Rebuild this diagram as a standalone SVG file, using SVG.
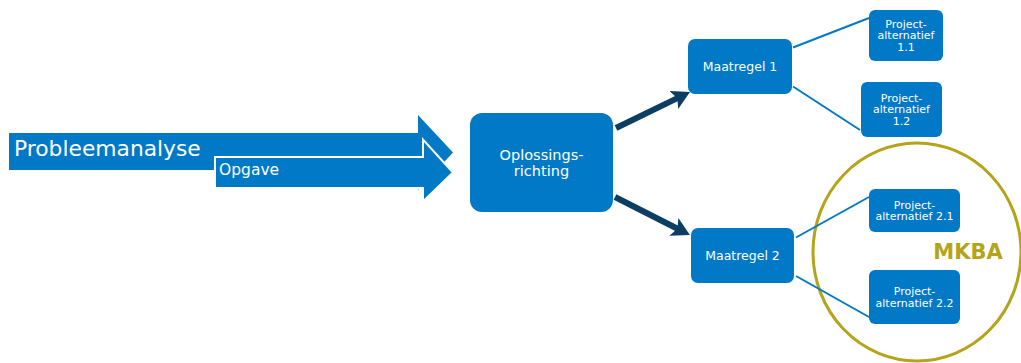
<svg xmlns="http://www.w3.org/2000/svg" width="1021" height="363" viewBox="0 0 1021 363">
  <style>
    .box { fill: #0179c7; }
    .t { font-family: "DejaVu Sans", Verdana, sans-serif; fill: #ffffff; text-anchor: middle; }
    .thin { stroke: #0179c7; stroke-width: 2; fill: none; }
    .dark { stroke: #0c3e62; stroke-width: 6; fill: none; }
  </style>
  <defs>
    <marker id="head" markerUnits="userSpaceOnUse" markerWidth="22" markerHeight="22" refX="8" refY="10" orient="auto">
      <path d="M0,0 L18,10 L0,20 L4,10 z" fill="#0c3e62"/>
    </marker>
  </defs>
  <rect width="1021" height="363" fill="#ffffff"/>

  <g id="mkba">
    <ellipse cx="917" cy="252" rx="104" ry="109" fill="none" stroke="#b5a41a" stroke-width="3"/>
    <text x="968" y="259" font-family="DejaVu Sans, Verdana, sans-serif" font-weight="bold" font-size="21" fill="#b5a41a" text-anchor="middle">MKBA</text>
  </g>

  <g id="probleemanalyse">
    <polygon class="box" points="9,133 418,133 418,115 453,152.5 418,190 418,170 9,170"/>
    <text x="14" y="156" font-family="DejaVu Sans, Verdana, sans-serif" font-size="21.8" fill="#ffffff">Probleemanalyse</text>
  </g>

  <g id="opgave">
    <polygon class="box" points="215,157 423,157 423,139.5 453,172.5 423,201.5 423,188 215,188" stroke="#ffffff" stroke-width="2"/>
    <text x="219" y="175" font-family="DejaVu Sans, Verdana, sans-serif" font-size="15.5" fill="#ffffff">Opgave</text>
  </g>

  <g id="connectors">
    <line class="dark" x1="616" y1="128" x2="681" y2="96.4" marker-end="url(#head)"/>
    <line class="dark" x1="615" y1="197" x2="681" y2="230.5" marker-end="url(#head)"/>
    <line class="thin" x1="793" y1="47.5" x2="869" y2="18"/>
    <line class="thin" x1="793" y1="86.5" x2="860" y2="130"/>
    <line class="thin" x1="796" y1="237.5" x2="869" y2="197"/>
    <line class="thin" x1="796" y1="276" x2="869" y2="317"/>
  </g>

  <g id="oplossingsrichting">
    <rect class="box" x="470" y="113" width="143" height="99" rx="12"/>
    <text class="t" x="541.5" y="159.5" font-size="14.5">Oplossings-</text>
    <text class="t" x="541.5" y="175.5" font-size="14.5">richting</text>
  </g>

  <g id="maatregel1">
    <rect class="box" x="688" y="39" width="104" height="55" rx="7"/>
    <text class="t" x="740" y="71" font-size="12.5">Maatregel 1</text>
  </g>

  <g id="maatregel2">
    <rect class="box" x="691" y="228" width="103" height="55" rx="7"/>
    <text class="t" x="742.5" y="260" font-size="12.5">Maatregel 2</text>
  </g>

  <g id="pa11">
    <rect class="box" x="869" y="10" width="74" height="51" rx="6"/>
    <text class="t" x="906" y="27.5" font-size="11">Project-</text>
    <text class="t" x="906" y="39" font-size="11">alternatief</text>
    <text class="t" x="906" y="50.5" font-size="11">1.1</text>
  </g>

  <g id="pa12">
    <rect class="box" x="861" y="82" width="81" height="55" rx="6"/>
    <text class="t" x="901.5" y="101.5" font-size="11">Project-</text>
    <text class="t" x="901.5" y="113" font-size="11">alternatief</text>
    <text class="t" x="901.5" y="124.5" font-size="11">1.2</text>
  </g>

  <g id="pa21">
    <rect class="box" x="869" y="189" width="91" height="43" rx="6"/>
    <text class="t" x="914.5" y="208.5" font-size="11">Project-</text>
    <text class="t" x="914.5" y="220" font-size="11">alternatief 2.1</text>
  </g>

  <g id="pa22">
    <rect class="box" x="869" y="270" width="91" height="54" rx="6"/>
    <text class="t" x="914.5" y="295" font-size="11">Project-</text>
    <text class="t" x="914.5" y="306.5" font-size="11">alternatief 2.2</text>
  </g>
</svg>
